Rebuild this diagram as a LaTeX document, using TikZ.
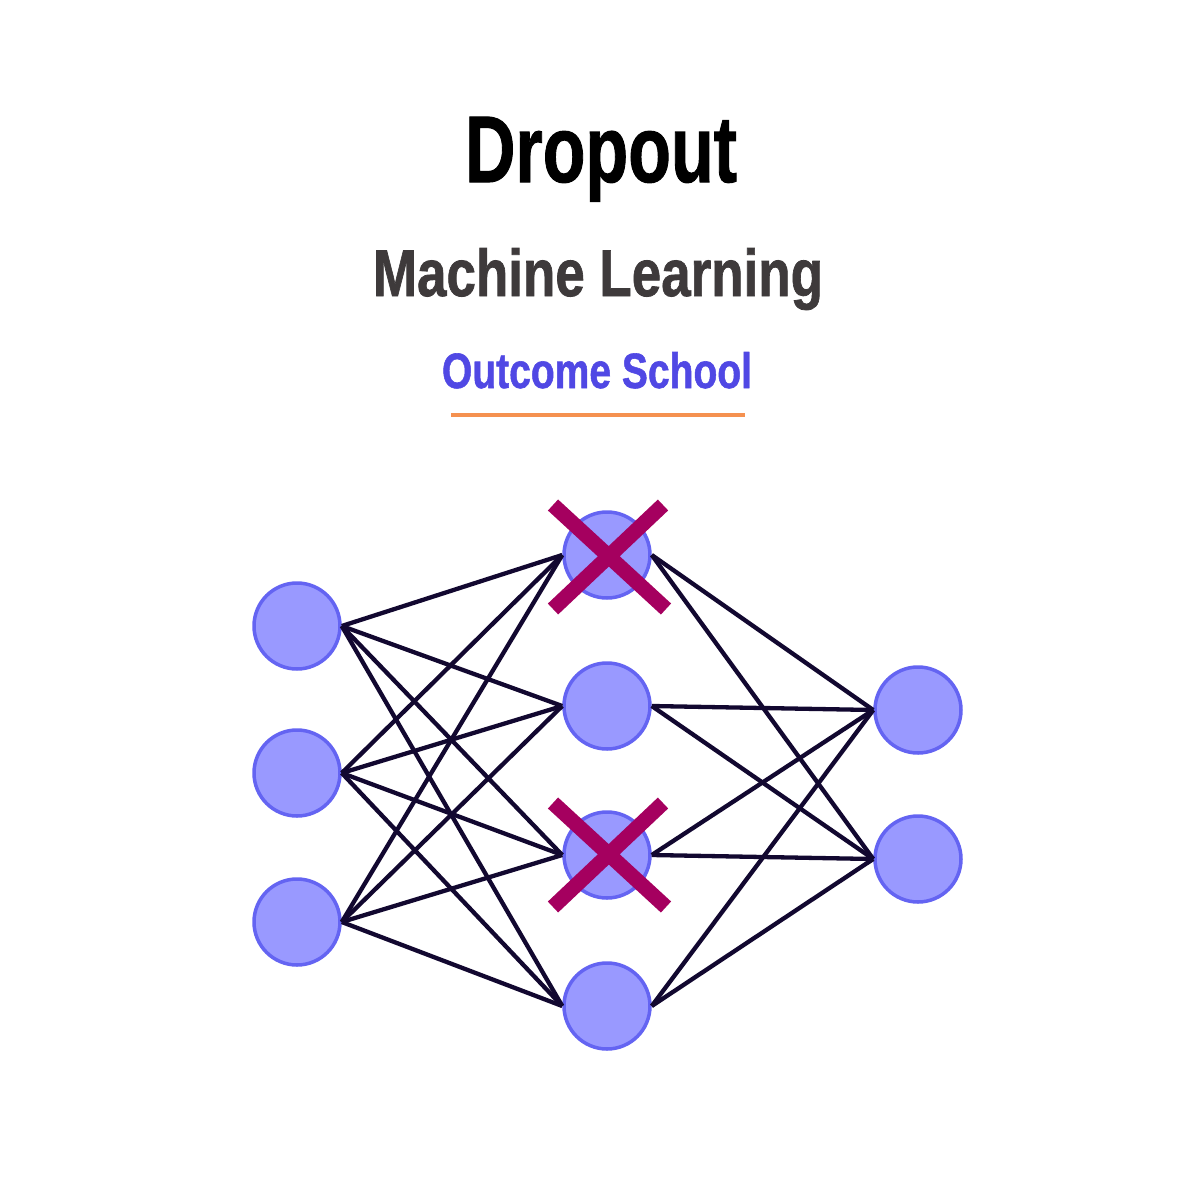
\documentclass[tikz,border=0pt]{standalone}
\usepackage{fontspec}
\usepackage{graphicx}
\setmainfont{Liberation Sans}
\newfontfamily\heavyfont[UprightFont={* Bold}, FakeBold=1.2]{Liberation Sans}
\definecolor{nodefill}{RGB}{153,153,255}
\definecolor{nodeedge}{RGB}{100,100,242}
\definecolor{edgecol}{RGB}{18,8,48}
\definecolor{crosscol}{RGB}{165,0,95}
\definecolor{subgray}{RGB}{62,58,59}
\definecolor{brandblue}{RGB}{80,72,228}
\definecolor{rulecol}{RGB}{245,145,80}
\tikzset{
  neuron/.style={circle, minimum size=86pt, inner sep=0pt, fill=nodefill, draw=nodeedge, line width=3.5pt},
  conn/.style={draw=edgecol, line width=4.3pt},
  cross/.style={draw=crosscol, line width=15pt},
  titletext/.style={anchor=base, inner sep=0pt}
}
\begin{document}
\begin{tikzpicture}[x=1pt,y=-1pt]
\useasboundingbox[fill=white] (0,0) rectangle (1200,1200);
% titles
\node[titletext] (title) at (601,182) {\resizebox{272pt}{65pt}{\heavyfont Dropout}};
\node[titletext, text=subgray] (sub) at (598,296) {\resizebox{450pt}{48pt}{\heavyfont Machine Learning}};
\node[titletext, text=brandblue] (brand) at (597,388) {\resizebox{310pt}{36pt}{\heavyfont Outcome School}};
\coordinate (rl) at (451,415);
\coordinate (rr) at (745,415);
\draw[draw=rulecol, line width=3.5pt] (rl) -- (rr);
% neurons
\node[neuron] (i1) at (297,626) {};
\node[neuron] (i2) at (297,773) {};
\node[neuron] (i3) at (297,922) {};
\node[neuron] (h1) at (607,555) {};
\node[neuron] (h2) at (607,706) {};
\node[neuron] (h3) at (607,855) {};
\node[neuron] (h4) at (607,1006) {};
\node[neuron] (o1) at (918,710) {};
\node[neuron] (o2) at (918,859) {};
% connections
\foreach \i in {i1,i2,i3}{
  \foreach \h in {h1,h2,h3,h4}{
    \draw[conn] (\i.east) -- (\h.west);
  }
}
\foreach \h in {h1,h2,h3,h4}{
  \foreach \o in {o1,o2}{
    \draw[conn] (\h.east) -- (\o.west);
  }
}
% dropout crosses
\coordinate (a1) at (553,505);
\coordinate (a2) at (666,609);
\coordinate (a3) at (663,505);
\coordinate (a4) at (553,609);
\draw[cross] (a1) -- (a2);
\draw[cross] (a3) -- (a4);
\coordinate (b1) at (553,803);
\coordinate (b2) at (666,907);
\coordinate (b3) at (663,803);
\coordinate (b4) at (553,907);
\draw[cross] (b1) -- (b2);
\draw[cross] (b3) -- (b4);
\end{tikzpicture}
\end{document}
